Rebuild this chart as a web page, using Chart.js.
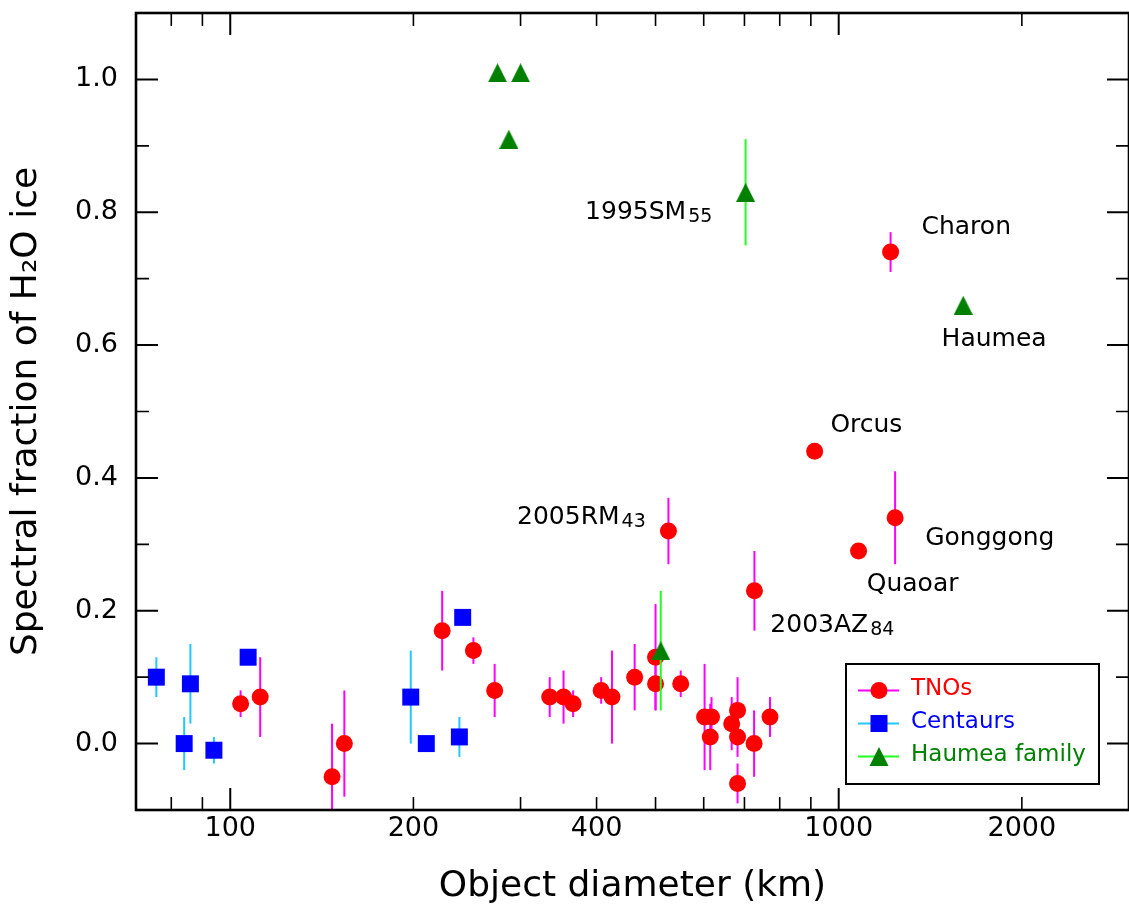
<!DOCTYPE html>
<html>
<head>
<meta charset="utf-8">
<title>H2O ice fraction vs diameter</title>
<script src="https://cdn.jsdelivr.net/npm/chart.js"></script>
<style>
  html, body { margin: 0; padding: 0; background: #fff; }
  #chart { display: block; }
</style>
</head>
<body>
<canvas id="chart" width="1129" height="909"></canvas>
<script>
// Object diameter (km), spectral fraction of H2O ice, and error (+/-)
const tnoDiam = [104, 112, 147, 154, 223, 251, 272, 335, 353, 366, 407, 424, 462, 500, 500, 525, 550, 602, 615, 618, 667, 682, 682, 682, 726, 727, 771, 913, 1078, 1217, 1238];
const tnoFrac = [0.06, 0.07, -0.05, 0.00, 0.17, 0.14, 0.08, 0.07, 0.07, 0.06, 0.08, 0.07, 0.10, 0.13, 0.09, 0.32, 0.09, 0.04, 0.01, 0.04, 0.03, 0.05, 0.01, -0.06, 0.00, 0.23, 0.04, 0.44, 0.29, 0.74, 0.34];
const tnoErr  = [0.02, 0.06, 0.08, 0.08, 0.06, 0.02, 0.04, 0.03, 0.04, 0.02, 0.02, 0.07, 0.05, 0.08, 0.04, 0.05, 0.02, 0.08, 0.05, 0.03, 0.04, 0.05, 0.03, 0.03, 0.05, 0.06, 0.03, 0, 0, 0.03, 0.07];

const cenDiam = [75.6, 84, 86, 94, 107, 198, 210, 238, 241];
const cenFrac = [0.10, 0.00, 0.09, -0.01, 0.13, 0.07, 0.00, 0.01, 0.19];
const cenErr  = [0.03, 0.04, 0.06, 0.02, 0, 0.07, 0, 0.03, 0];

const hauDiam = [275, 287, 300, 510, 703, 1602];
const hauFrac = [1.01, 0.91, 1.01, 0.14, 0.83, 0.66];
const hauErr  = [0, 0, 0, 0.09, 0.08, 0];

// axis ticks
const xLabelTicks = [100, 200, 400, 1000, 2000];
const xMajorTicks = [100, 1000];
const xMinorTicks = [80, 90, 200, 300, 400, 500, 600, 700, 800, 900, 2000];
const yMajorTicks = [0, 0.2, 0.4, 0.6, 0.8, 1.0];
const yMinorTicks = [0.1, 0.3, 0.5, 0.7, 0.9];

// named objects: text, subscript, anchor (diameter, fraction) of left baseline
const notes = [
    { text: '1995SM', sub: '55', x: 383, y: 0.79 },
    { text: 'Charon', sub: '', x: 1368, y: 0.768 },
    { text: 'Haumea', sub: '', x: 1476, y: 0.599 },
    { text: 'Orcus', sub: '', x: 969, y: 0.469 },
    { text: '2005RM', sub: '43', x: 296, y: 0.331 },
    { text: 'Gonggong', sub: '', x: 1387, y: 0.299 },
    { text: 'Quaoar', sub: '', x: 1112, y: 0.229 },
    { text: '2003AZ', sub: '84', x: 772, y: 0.1685 }
];

const FONT = 'DejaVu Sans';
Chart.defaults.font.family = FONT;
Chart.defaults.color = '#000';

function toPoints(xs, ys) {
    return xs.map((x, i) => ({ x: x, y: ys[i] }));
}

// matplotlib-like '^' marker (centred on its bounding box)
function triangleMarker(size, color) {
    const c = document.createElement('canvas');
    c.width = size;
    c.height = size;
    const g = c.getContext('2d');
    g.fillStyle = color;
    g.beginPath();
    g.moveTo(size / 2, 0);
    g.lineTo(size, size);
    g.lineTo(0, size);
    g.closePath();
    g.fill();
    return c;
}

// fixed axis box sizes, no extra label padding
function fixBox(s, w, h) {
    if (w !== null) s.width = w;
    if (h !== null) s.height = h;
    s.paddingTop = 0;
    s.paddingBottom = 0;
    s.paddingLeft = 0;
    s.paddingRight = 0;
}

const errInfo = [
    { errs: tnoErr, color: '#ff00ff' },
    { errs: cenErr, color: '#22c8ff' },
    { errs: hauErr, color: '#22ff22' }
];

const frame = {
    id: 'frame',
    beforeDatasetDraw(chart, args) {
        const info = errInfo[args.index];
        const ds = chart.data.datasets[args.index];
        const xs = chart.scales.x, ys = chart.scales.y;
        const a = chart.chartArea;
        const ctx = chart.ctx;
        ctx.save();
        ctx.beginPath();
        ctx.rect(a.left, a.top, a.right - a.left, a.bottom - a.top);
        ctx.clip();
        ctx.strokeStyle = info.color;
        ctx.lineWidth = 2;
        ds.data.forEach((p, i) => {
            const e = info.errs[i];
            if (!e) return;
            const px = xs.getPixelForValue(p.x);
            ctx.beginPath();
            ctx.moveTo(px, ys.getPixelForValue(p.y - e));
            ctx.lineTo(px, ys.getPixelForValue(p.y + e));
            ctx.stroke();
        });
        ctx.restore();
    },
    afterDraw(chart) {
        const ctx = chart.ctx;
        const a = chart.chartArea;
        const xs = chart.scales.x, ys = chart.scales.y;
        ctx.save();

        // inward ticks on all four sides
        ctx.strokeStyle = '#000';
        const tickX = (vals, len, w) => {
            ctx.lineWidth = w;
            vals.forEach(v => {
                const px = xs.getPixelForValue(v);
                ctx.beginPath();
                ctx.moveTo(px, a.bottom); ctx.lineTo(px, a.bottom - len);
                ctx.moveTo(px, a.top); ctx.lineTo(px, a.top + len);
                ctx.stroke();
            });
        };
        const tickY = (vals, len, w) => {
            ctx.lineWidth = w;
            vals.forEach(v => {
                const py = ys.getPixelForValue(v);
                ctx.beginPath();
                ctx.moveTo(a.left, py); ctx.lineTo(a.left + len, py);
                ctx.moveTo(a.right, py); ctx.lineTo(a.right - len, py);
                ctx.stroke();
            });
        };
        tickX(xMajorTicks, 22, 2);
        tickX(xMinorTicks, 13, 1.6);
        tickY(yMajorTicks, 22, 2);
        tickY(yMinorTicks, 13, 1.6);

        // spines
        ctx.lineWidth = 2.6;
        ctx.strokeRect(a.left, a.top, a.right - a.left, a.bottom - a.top);

        // annotations
        ctx.fillStyle = '#000';
        ctx.textBaseline = 'alphabetic';
        ctx.textAlign = 'left';
        notes.forEach(n => {
            const px = xs.getPixelForValue(n.x);
            const py = ys.getPixelForValue(n.y);
            ctx.font = '25px "' + FONT + '"';
            ctx.fillText(n.text, px, py);
            if (n.sub) {
                const w = ctx.measureText(n.text).width;
                ctx.font = '19px "' + FONT + '"';
                ctx.fillText(n.sub, px + w + 2, py + 3);
            }
        });

        // legend
        const bx = 846, by = 664, bw = 253, bh = 120;
        ctx.fillStyle = '#fff';
        ctx.fillRect(bx, by, bw, bh);
        ctx.strokeStyle = '#000';
        ctx.lineWidth = 2;
        ctx.strokeRect(bx, by, bw, bh);
        const items = [
            { label: 'TNOs', line: '#ff00ff', text: '#ff0000', mark: 'circle', fill: '#ff0000' },
            { label: 'Centaurs', line: '#22c8ff', text: '#0000ff', mark: 'square', fill: '#0000ff' },
            { label: 'Haumea family', line: '#22ff22', text: '#008000', mark: 'triangle', fill: '#008000' }
        ];
        items.forEach((it, i) => {
            const y = 690.5 + i * 33;
            ctx.strokeStyle = it.line;
            ctx.lineWidth = 2;
            ctx.beginPath();
            ctx.moveTo(858, y); ctx.lineTo(899, y);
            ctx.stroke();
            ctx.fillStyle = it.fill;
            ctx.beginPath();
            if (it.mark === 'circle') {
                ctx.arc(879, y, 8.5, 0, Math.PI * 2);
            } else if (it.mark === 'square') {
                ctx.rect(879 - 8.5, y - 8.5, 17, 17);
            } else {
                ctx.moveTo(879, y - 9.5);
                ctx.lineTo(879 + 9.5, y + 9.5);
                ctx.lineTo(879 - 9.5, y + 9.5);
                ctx.closePath();
            }
            ctx.fill();
            ctx.fillStyle = it.text;
            ctx.font = '23px "' + FONT + '"';
            ctx.textBaseline = 'middle';
            ctx.fillText(it.label, 911, y - 1);
        });
        ctx.restore();
    }
};

new Chart(document.getElementById('chart'), {
    type: 'scatter',
    data: {
        datasets: [
            {
                label: 'TNOs',
                data: toPoints(tnoDiam, tnoFrac),
                pointStyle: 'circle',
                pointRadius: 8.5,
                pointBorderWidth: 0,
                backgroundColor: '#ff0000',
                borderColor: '#ff0000',
                order: 3
            },
            {
                label: 'Centaurs',
                data: toPoints(cenDiam, cenFrac),
                pointStyle: 'rect',
                pointRadius: 12,
                pointBorderWidth: 0,
                backgroundColor: '#0000ff',
                borderColor: '#0000ff',
                order: 2
            },
            {
                label: 'Haumea family',
                data: toPoints(hauDiam, hauFrac),
                pointStyle: triangleMarker(19, '#008000'),
                pointRadius: 10,
                backgroundColor: '#008000',
                borderColor: '#008000',
                order: 1
            }
        ]
    },
    options: {
        responsive: false,
        animation: false,
        events: [],
        layout: { autoPadding: false, padding: { top: 13, right: -2, left: 0, bottom: 0 } },
        plugins: {
            legend: { display: false },
            tooltip: { enabled: false }
        },
        scales: {
            x: {
                type: 'logarithmic',
                min: 70,
                max: 3000,
                grid: { display: false, drawTicks: false },
                border: { display: false },
                afterBuildTicks: s => { s.ticks = xLabelTicks.map(v => ({ value: v })); },
                afterFit: s => fixBox(s, null, 99),
                ticks: {
                    font: { size: 27 },
                    color: '#000',
                    padding: 3,
                    maxRotation: 0,
                    autoSkip: false,
                    callback: v => String(v)
                },
                title: {
                    display: true,
                    text: 'Object diameter (km)',
                    font: { size: 36 },
                    color: '#000',
                    padding: { top: 0, bottom: 1 }
                }
            },
            y: {
                min: -0.1,
                max: 1.1,
                grid: { display: false, drawTicks: false },
                border: { display: false },
                afterBuildTicks: s => { s.ticks = yMajorTicks.map(v => ({ value: v })); },
                afterFit: s => fixBox(s, 136, null),
                ticks: {
                    font: { size: 27 },
                    color: '#000',
                    padding: 18,
                    callback: v => v.toFixed(1)
                },
                title: {
                    display: true,
                    text: 'Spectral fraction of H\u2082O ice',
                    font: { size: 36 },
                    color: '#000',
                    padding: { top: 5, bottom: 0 }
                }
            }
        }
    },
    plugins: [frame]
});
</script>
</body>
</html>
